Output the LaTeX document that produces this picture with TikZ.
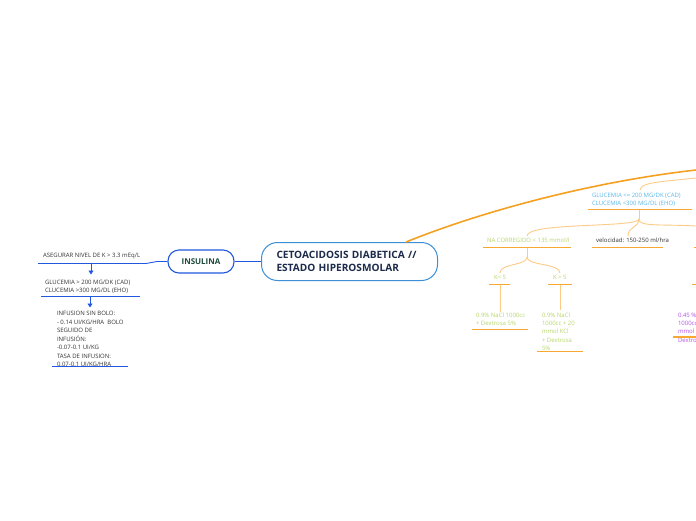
\documentclass[tikz,border=0pt]{standalone}
\usepackage{fontspec}
\setmainfont{Open Sans}
\usetikzlibrary{arrows.meta,calc}
\definecolor{mblue}{HTML}{2158E0}
\definecolor{cblue}{HTML}{3D8FD8}
\definecolor{navy}{HTML}{1C2B4B}
\definecolor{dgreen}{HTML}{1D4A3C}
\definecolor{mor}{HTML}{F5A020}
\definecolor{uor}{HTML}{F7A833}
\definecolor{lor}{HTML}{FCCB85}
\definecolor{lblue}{HTML}{5CB6E8}
\definecolor{lgreen}{HTML}{B6D46A}
\definecolor{purp}{HTML}{B054E6}
\definecolor{dtext}{HTML}{333333}
\begin{document}
\begin{tikzpicture}[x=1pt,y=-1pt,
  txt/.style={inner sep=0pt, outer sep=0pt, anchor=north west, align=left, font=\fontsize{6}{8.2}\selectfont},
  uline/.style={line width=1.4pt, draw=uor},
  bline/.style={line width=1.4pt, draw=mblue},
  bconn/.style={line width=0.9pt, draw=mblue},
  barrow/.style={line width=0.9pt, draw=mblue, -{Triangle[width=5pt,length=4pt]}},
  lconn/.style={line width=0.9pt, draw=lor},
  mainor/.style={line width=1.6pt, draw=mor}]
\useasboundingbox (0,0) rectangle (696,520);
\clip (0,0) rectangle (696,520);

% central node
\node[draw=cblue, line width=1pt, fill=white, rounded corners=16pt, minimum width=176pt, minimum height=38pt,
  text width=146pt, align=left, inner sep=0pt, text=navy, font=\fontsize{10.1}{13.5}\selectfont\bfseries]
  (c) at (349.5,261.5) {CETOACIDOSIS DIABETICA //\\ESTADO HIPEROSMOLAR};

% INSULINA
\node[draw=mblue, line width=1.1pt, fill=white, rounded corners=11pt, minimum width=66pt, minimum height=23pt,
  inner sep=0pt, text=dgreen, font=\fontsize{8}{10}\selectfont\bfseries]
  (ins) at (201,261.5) {INSULINA};

\draw[bconn] (c.west) -- (ins.east);

% left branch
\node[txt, text=dtext] (aseg) at (43,253.5) {ASEGURAR NIVEL DE K > 3.3 mEq/L};
\coordinate (insL) at (157,261.5);
\coordinate (asegL) at (38,263.5);
\coordinate (asegR) at (146,263.5);
\coordinate (asegM) at (91,263.5);
\draw[bconn] (ins.west) -- (insL) -- (asegR);
\draw[bline] (asegL) -- (asegR);

\node[txt, text=dtext, font=\fontsize{6}{8}\selectfont] (glu1) at (45,280.5) {GLUCEMIA > 200 MG/DK (CAD)\\CLUCEMIA >300 MG/DL (EHO)};
\coordinate (glu1T) at (91,274.5);
\draw[barrow] (asegM) -- (glu1T);
\coordinate (glu1L) at (41,296.5);
\coordinate (glu1R) at (140,296.5);
\coordinate (glu1M) at (90,296.5);
\draw[bline] (glu1L) -- (glu1R);

\node[txt, text=dtext, font=\fontsize{6}{8.5}\selectfont] (inf) at (57,311.5)
  {INFUSION SIN BOLO:\\- 0.14 UI/KG/HRA\ \ BOLO\\SEGUIDO DE\\INFUSIÓN:\\-0.07-0.1 UI/KG\\TASA DE INFUSION:\\0.07-0.1 UI/KG/HRA};
\coordinate (infT) at (90,307.5);
\draw[barrow] (glu1M) -- (infT);
\coordinate (infL) at (52,366.5);
\coordinate (infR) at (128,366.5);
\draw[bline] (infL) -- (infR);

% orange main branch
\coordinate (topR) at (696,170);
\draw[mainor] (c.19) .. controls (480,212) and (590,182) .. (topR);

% GLUCEMIA right node
\node[txt, text=lblue, font=\fontsize{6}{8.3}\selectfont] (g) at (592,193.3) {GLUCEMIA <= 200 MG/DK (CAD)\\CLUCEMIA <300 MG/DL (EHO)};
\coordinate (gT) at (640,190);
\coordinate (gT2) at (662,181.5);
\coordinate (gR) at (696,178);
\draw[lconn] (gT) .. controls (640,185) and (650,183) .. (gT2) -- (gR);
\coordinate (gL) at (588,209.5);
\coordinate (gRR) at (692,209.5);
\coordinate (gM) at (639,209.5);
\coordinate (gD) at (639,219);
\draw[uline] (gL) -- (gRR);
\draw[lconn] (gM) -- (gD);

\node[txt, text=lgreen] (na) at (487,237.5) {NA CORREGIDO < 135 mmol/l};
\node[txt, text=dtext] (vel) at (596,237.5) {velocidad: 150-250 ml/hra};
\coordinate (naT) at (527,236);
\coordinate (velT) at (628,236);
\coordinate (gBR) at (696,226);
\draw[lconn] (gD) .. controls (639,228) and (527,222) .. (naT);
\draw[lconn] (gD) .. controls (639,228) and (628,226) .. (velT);
\draw[lconn] (gD) .. controls (639,227) and (660,224) .. (gBR);
\coordinate (naL) at (483,247.5);
\coordinate (naR) at (571,247.5);
\coordinate (naM) at (527,247.5);
\coordinate (naD) at (527,257);
\draw[uline] (naL) -- (naR);
\draw[lconn] (naM) -- (naD);
\coordinate (velL) at (592,247.5);
\coordinate (velR) at (663,247.5);
\draw[uline] (velL) -- (velR);
\coordinate (t2L) at (694,247.5);
\coordinate (t2R) at (696,247.5);
\draw[uline] (t2L) -- (t2R);

% K nodes
\node[txt, text=lgreen] (k1) at (494,275.5) {K< 5};
\node[txt, text=lgreen] (k2) at (553,275.5) {K > 5};
\coordinate (k1T) at (500,273);
\coordinate (k2T) at (560,273);
\draw[lconn] (naD) .. controls (527,266) and (500,263) .. (k1T);
\draw[lconn] (naD) .. controls (527,266) and (560,263) .. (k2T);
\coordinate (k1L) at (489,284.5);
\coordinate (k1R) at (510,284.5);
\coordinate (k1M) at (500,284.5);
\coordinate (k2L) at (548,284.5);
\coordinate (k2R) at (572,284.5);
\coordinate (k2M) at (560,284.5);
\draw[uline] (k1L) -- (k1R);
\draw[uline] (k2L) -- (k2R);
\coordinate (t1L) at (692,284.5);
\coordinate (t1R) at (696,284.5);
\draw[uline] (t1L) -- (t1R);

% solutions
\node[txt, text=lgreen, font=\fontsize{6}{7.9}\selectfont] (s1) at (476,313) {0.9\% NaCl 1000cc\\+ Dextrosa 5\%};
\node[txt, text=lgreen, font=\fontsize{6}{8.3}\selectfont] (s2) at (542,312.6) {0.9\% NaCl\\1000cc + 20\\mmol KCl\\+ Dextrosa\\5\%};
\node[txt, text=purp, font=\fontsize{6}{8.2}\selectfont] (s3) at (678,313) {0.45 \% NaCl\\1000cc + 20\\mmol KCl +\\Dextrosa 5\%};
\coordinate (s1T) at (500,312);
\coordinate (s2T) at (560,310);
\draw[lconn] (k1M) -- (s1T);
\draw[lconn] (k2M) -- (s2T);
\coordinate (s1L) at (472,329.5);
\coordinate (s1R) at (528,329.5);
\coordinate (s2L) at (537,351.5);
\coordinate (s2R) at (583,351.5);
\coordinate (s3L) at (673,337);
\coordinate (s3R) at (696,337);
\draw[uline] (s1L) -- (s1R);
\draw[uline] (s2L) -- (s2R);
\draw[uline] (s3L) -- (s3R);
\end{tikzpicture}
\end{document}
